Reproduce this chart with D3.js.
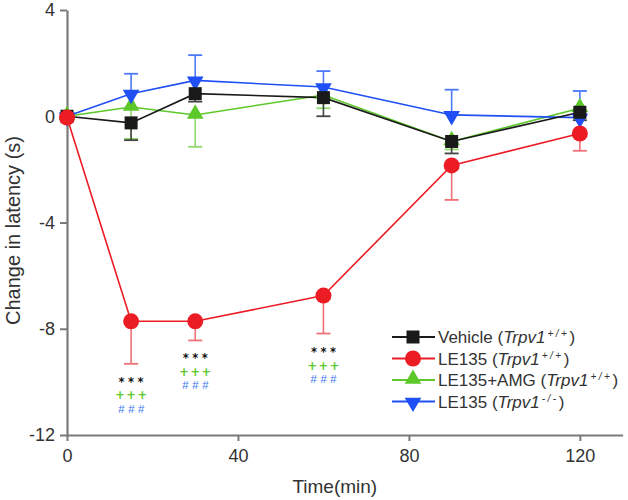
<!DOCTYPE html>
<html>
<head>
<meta charset="utf-8">
<script src="https://cdn.jsdelivr.net/npm/d3@7"></script>
<style>
  html, body { margin: 0; padding: 0; background: #fff; }
  svg { display: block; font-family: "Liberation Sans", Arial, sans-serif; }
</style>
</head>
<body>
<svg id="chart" width="628" height="500"></svg>
<script>
// ---- data ----
const times = [0, 15, 30, 60, 90, 120];
const xTicks = [0, 40, 80, 120];
const yTicks = [4, 0, -4, -8, -12];

const vehicle    = [0, -0.25, 0.85, 0.7, -0.95, 0.15];
const vehicleErr = [0, 0.65, 0.3, 0.7, 0.45, 0.3];
const le135      = [-0.05, -7.72, -7.72, -6.75, -1.85, -0.65];
const le135Err   = [0, 1.6, 0.72, 1.43, 1.3, 0.65];
const amg        = [0, 0.35, 0.05, 0.8, -0.95, 0.3];
const amgErr     = [0, 1.2, 1.2, 0.5, 0.3, 0.2];
const ko         = [0, 0.85, 1.35, 1.1, 0.05, -0.05];
const koErr      = [0, 0.75, 0.95, 0.6, 0.95, 1.0];

const annoTimes = [15, 30, 60];
const annoTopVal = [-9.95, -9.08, -8.85];
const annoRows = ["***", "+++", "###"];

// ---- setup ----
const svg = d3.select("#chart");
const x = d3.scaleLinear().domain([0, 130]).range([67, 622.6]);
const y = d3.scaleLinear().domain([-12, 4]).range([435, 10]);

const series = [
  {name: "LE135+AMG", geno: "+/+", vals: amg,     err: amgErr,     dir: -1, color: "#5cc829", errColor: "#8fd96a", shape: "tri"},
  {name: "LE135",     geno: "-/-", vals: ko,      err: koErr,      dir:  1, color: "#1f4ff5", errColor: "#4d78f7", shape: "tridown"},
  {name: "Vehicle",   geno: "+/+", vals: vehicle, err: vehicleErr, dir: -1, color: "#1a1a1a", errColor: "#444", shape: "square"},
  {name: "LE135",     geno: "+/+", vals: le135,   err: le135Err,   dir: -1, color: "#ec1c24", errColor: "#f07078", shape: "circle"}
];
const legendOrder = [2, 3, 0, 1];

const axisColor = "#7a7a7a";

// axes
const xAxis = svg.append("g").attr("transform", `translate(0,${y(-12)})`)
  .call(d3.axisBottom(x).tickValues(xTicks).tickSize(6).tickPadding(8).tickSizeOuter(0));
const yAxis = svg.append("g").attr("transform", `translate(${x(0)},0)`)
  .call(d3.axisLeft(y).tickValues(yTicks).tickSize(7).tickPadding(5).tickSizeOuter(0)
        .tickFormat(d => d));
[xAxis, yAxis].forEach(a => {
  a.selectAll("path.domain").attr("stroke", axisColor).attr("stroke-width", 2.2);
  a.selectAll("line").attr("stroke", axisColor).attr("stroke-width", 2);
  a.selectAll("text").attr("fill", "#333").attr("font-size", 18)
    .attr("font-family", "'Liberation Sans', Arial, sans-serif");
});

svg.append("text").attr("x", (x(0) + x(130)) / 2 - 10).attr("y", 493)
  .attr("text-anchor", "middle").attr("font-size", 19).attr("fill", "#333").text("Time(min)");
svg.append("text").attr("transform", `translate(20,${y(-4) + 8}) rotate(-90)`)
  .attr("text-anchor", "middle").attr("font-size", 20).attr("fill", "#333").text("Change in latency (s)");

function marker(g, shape, color, cx, cy) {
  if (shape === "circle") {
    g.append("circle").attr("cx", cx).attr("cy", cy).attr("r", 8).attr("fill", color);
  } else if (shape === "square") {
    g.append("rect").attr("x", cx - 6.5).attr("y", cy - 6.5).attr("width", 13).attr("height", 13).attr("fill", color);
  } else {
    const sym = d3.symbol().type(d3.symbolTriangle).size(120);
    g.append("path").attr("d", sym()).attr("fill", color)
      .attr("transform", `translate(${cx},${cy + (shape === "tridown" ? 1 : -1)}) rotate(${shape === "tridown" ? 180 : 0})`);
  }
}

// error bars
series.forEach(s => {
  const g = svg.append("g");
  times.forEach((t, i) => {
    if (!s.err[i]) return;
    const y0 = y(s.vals[i]), y1 = y(s.vals[i] + s.dir * s.err[i]);
    g.append("line").attr("x1", x(t)).attr("x2", x(t)).attr("y1", y0).attr("y2", y1)
      .attr("stroke", s.errColor).attr("stroke-width", 1.6);
    g.append("line").attr("x1", x(t) - 7).attr("x2", x(t) + 7).attr("y1", y1).attr("y2", y1)
      .attr("stroke", s.errColor).attr("stroke-width", 1.8);
  });
});

// lines + markers
const line = d3.line().x((d, i) => x(times[i])).y(d => y(d));
series.forEach(s => {
  svg.append("path").datum(s.vals).attr("d", line).attr("fill", "none")
    .attr("stroke", s.color).attr("stroke-width", 1.6);
});
series.forEach(s => {
  const g = svg.append("g");
  s.vals.forEach((v, i) => marker(g, s.shape, s.color, x(times[i]), y(v)));
});

// significance annotations
const annoColors = ["#111", "#5cc829", "#3a78f2"];
const annoFont = ["'DejaVu Sans', sans-serif", "'DejaVu Sans', sans-serif", "'Liberation Sans', Arial, sans-serif"];
const annoSpacing = [3.5, 1.5, 3.5];
annoTimes.forEach((t, i) => {
  annoRows.forEach((txt, r) => {
    svg.append("text").attr("x", x(t) + annoSpacing[r] / 2).attr("y", y(annoTopVal[i]) + r * 13.5 + 5)
      .attr("text-anchor", "middle")
      .attr("font-family", annoFont[r])
      .attr("font-size", 11.5).attr("font-weight", r === 2 ? "normal" : "bold")
      .attr("font-style", r === 2 ? "italic" : "normal")
      .attr("letter-spacing", annoSpacing[r])
      .attr("fill", annoColors[r]).text(txt);
  });
});

// legend
const lg = svg.append("g");
legendOrder.forEach((si, k) => {
  const s = series[si];
  const ly = 337 + k * 21.5;
  lg.append("line").attr("x1", 392).attr("x2", 435).attr("y1", ly).attr("y2", ly)
    .attr("stroke", s.color).attr("stroke-width", 1.8);
  marker(lg, s.shape, s.color, 413, ly);
  const t = lg.append("text").attr("x", 438).attr("y", ly + 6).attr("font-size", 17).attr("fill", "#333");
  t.append("tspan").text(s.name + " (");
  t.append("tspan").attr("font-style", "italic").text("Trpv1");
  t.append("tspan").attr("font-style", "italic").attr("font-size", 10).attr("letter-spacing", 2.5)
    .attr("dx", 2).attr("dy", -6).text(s.geno);
  t.append("tspan").attr("dy", 6).text(")");
});
</script>
</body>
</html>
